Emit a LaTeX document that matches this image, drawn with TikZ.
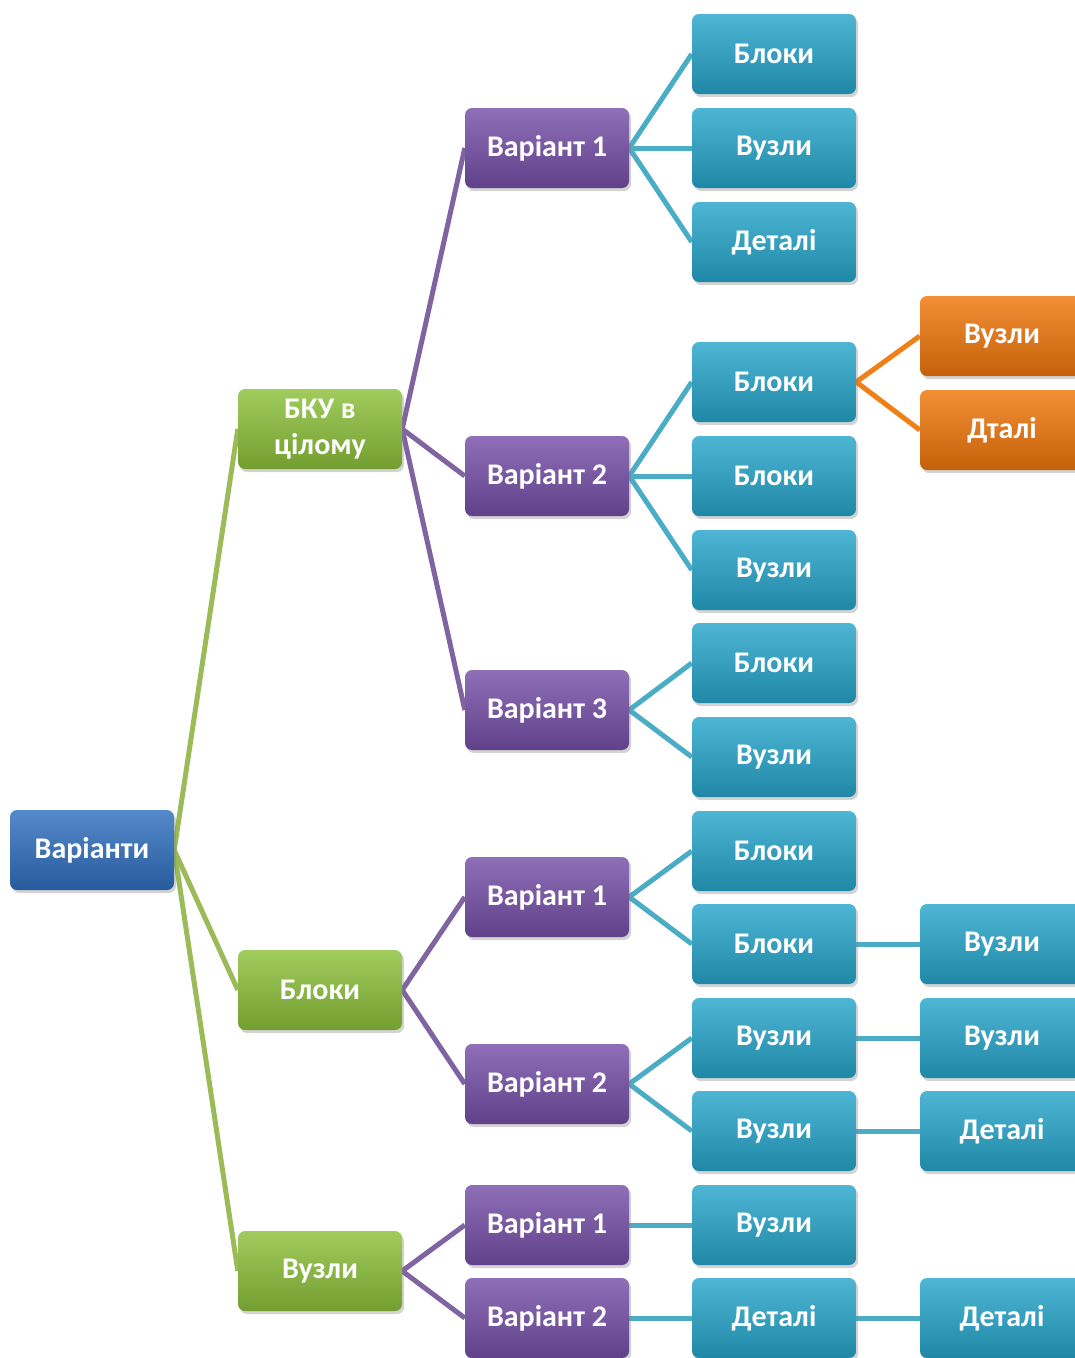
\documentclass[tikz,border=0pt]{standalone}
\usepackage{fontspec}
\setmainfont{Carlito}
\usetikzlibrary{shadows,backgrounds}
\definecolor{bluebase}{HTML}{2F6FBF}
\definecolor{greenbase}{HTML}{8CC03A}
\definecolor{purplebase}{HTML}{7650A8}
\definecolor{cyanbase}{HTML}{27A6CB}
\definecolor{orangebase}{HTML}{F0760A}
\definecolor{greenline}{HTML}{9BBB59}
\definecolor{purpleline}{HTML}{8064A2}
\definecolor{cyanline}{HTML}{4BACC6}
\definecolor{orangeline}{HTML}{F07F18}
\tikzset{
  box/.style={rounded corners=7pt, minimum width=164pt, minimum height=80pt,
    inner sep=2pt, align=center, text=white,
    font=\bfseries\fontsize{30}{36}\selectfont,
    top color=#1!82!white, middle color=#1, bottom color=#1!82!black,
    drop shadow={shadow xshift=2pt, shadow yshift=-3pt, opacity=0.35}},
  bluebox/.style={box=bluebase},
  greenbox/.style={box=greenbase},
  purplebox/.style={box=purplebase},
  cyanbox/.style={box=cyanbase},
  orangebox/.style={box=orangebase},
  link/.style={line width=5pt, draw=#1},
}
\begin{document}
\begin{tikzpicture}[x=1pt,y=-1pt]
\useasboundingbox (0,0) rectangle (1075,1358);
\clip (0,0) rectangle (1075,1358);
% root
\node[bluebox] (r) at (92,850) {Варіанти};
% level 1
\node[greenbox] (g1) at (320,429) {БКУ в\\цілому};
\node[greenbox] (g2) at (320,990) {Блоки};
\node[greenbox] (g3) at (320,1271) {Вузли};
% level 2
\node[purplebox] (p1) at (547,148) {Варіант 1};
\node[purplebox] (p2) at (547,476) {Варіант 2};
\node[purplebox] (p3) at (547,710) {Варіант 3};
\node[purplebox] (p4) at (547,897) {Варіант 1};
\node[purplebox] (p5) at (547,1084) {Варіант 2};
\node[purplebox] (p6) at (547,1225) {Варіант 1};
\node[purplebox] (p7) at (547,1318) {Варіант 2};
% level 3
\node[cyanbox] (c1) at (774,54) {Блоки};
\node[cyanbox] (c2) at (774,148) {Вузли};
\node[cyanbox] (c3) at (774,242) {Деталі};
\node[cyanbox] (c4) at (774,382) {Блоки};
\node[cyanbox] (c5) at (774,476) {Блоки};
\node[cyanbox] (c6) at (774,570) {Вузли};
\node[cyanbox] (c7) at (774,663) {Блоки};
\node[cyanbox] (c8) at (774,757) {Вузли};
\node[cyanbox] (c9) at (774,851) {Блоки};
\node[cyanbox] (c10) at (774,944) {Блоки};
\node[cyanbox] (c11) at (774,1038) {Вузли};
\node[cyanbox] (c12) at (774,1131) {Вузли};
\node[cyanbox] (c13) at (774,1225) {Вузли};
\node[cyanbox] (c14) at (774,1318) {Деталі};
% level 4
\node[orangebox] (o1) at (1002,336) {Вузли};
\node[orangebox] (o2) at (1002,430) {Дталі};
\node[cyanbox] (d1) at (1002,944) {Вузли};
\node[cyanbox] (d2) at (1002,1038) {Вузли};
\node[cyanbox] (d3) at (1002,1131) {Деталі};
\node[cyanbox] (d4) at (1002,1318) {Деталі};
% connectors behind boxes
\begin{pgfonlayer}{background}
\foreach \c in {g1,g2,g3} \draw[link=greenline] (r.east) -- (\c.west);
\foreach \c in {p1,p2,p3} \draw[link=purpleline] (g1.east) -- (\c.west);
\foreach \c in {p4,p5} \draw[link=purpleline] (g2.east) -- (\c.west);
\foreach \c in {p6,p7} \draw[link=purpleline] (g3.east) -- (\c.west);
\foreach \c in {c1,c2,c3} \draw[link=cyanline] (p1.east) -- (\c.west);
\foreach \c in {c4,c5,c6} \draw[link=cyanline] (p2.east) -- (\c.west);
\foreach \c in {c7,c8} \draw[link=cyanline] (p3.east) -- (\c.west);
\foreach \c in {c9,c10} \draw[link=cyanline] (p4.east) -- (\c.west);
\foreach \c in {c11,c12} \draw[link=cyanline] (p5.east) -- (\c.west);
\draw[link=cyanline] (p6.east) -- (c13.west);
\draw[link=cyanline] (p7.east) -- (c14.west);
\foreach \c in {o1,o2} \draw[link=orangeline] (c4.east) -- (\c.west);
\draw[link=cyanline] (c10.east) -- (d1.west);
\draw[link=cyanline] (c11.east) -- (d2.west);
\draw[link=cyanline] (c12.east) -- (d3.west);
\draw[link=cyanline] (c14.east) -- (d4.west);
\end{pgfonlayer}
\end{tikzpicture}
\end{document}
